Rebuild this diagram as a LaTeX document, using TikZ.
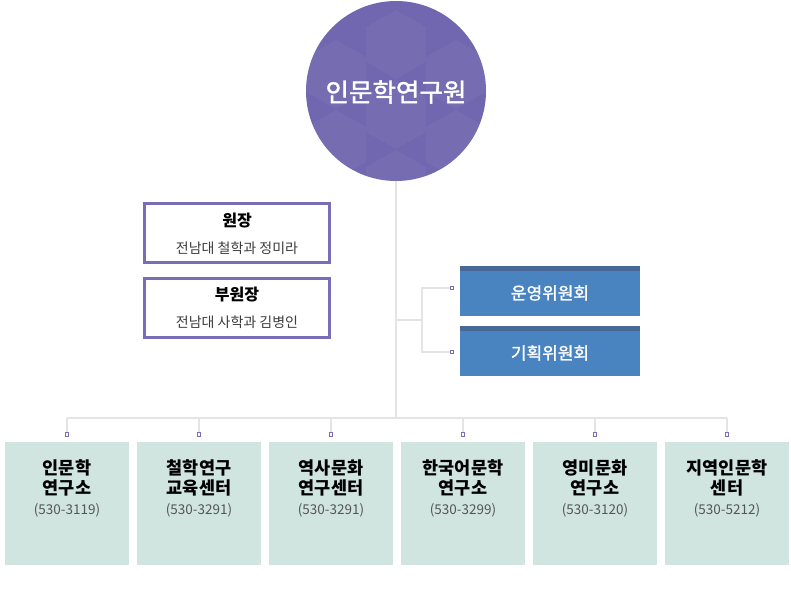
\documentclass[tikz,border=0pt]{standalone}
\usepackage{fontspec}
\setmainfont{Noto Sans CJK KR}
\newfontfamily\kr{Noto Sans CJK KR}
\newfontfamily\krm[FakeBold=1.5]{Noto Sans CJK KR}
\definecolor{circ}{RGB}{113,103,176}
\definecolor{pborder}{RGB}{122,109,181}
\definecolor{bluebox}{RGB}{74,132,192}
\definecolor{bluetop}{RGB}{72,104,152}
\definecolor{mint}{RGB}{209,229,224}
\definecolor{linegray}{RGB}{228,228,228}
\definecolor{phone}{RGB}{85,85,85}
\definecolor{subgray}{RGB}{60,60,60}
\tikzset{
  conn/.style={draw=linegray, line width=1.2pt},
  endsq/.style={draw=pborder, fill=white, line width=0.9pt, minimum size=3.2pt, inner sep=0pt, rectangle},
  leadbox/.style={draw=pborder, line width=2.6pt, fill=white, minimum width=185pt, minimum height=59pt, inner sep=0pt},
  commbox/.style={fill=bluebox, minimum width=180pt, minimum height=50pt, inner sep=0pt},
  unitbox/.style={fill=mint, minimum width=124pt, minimum height=123pt, inner sep=0pt},
  unittext/.style={align=center, font=\kr\fontsize{17.5pt}{20.5pt}\selectfont\bfseries, text=black},
}
\begin{document}
\begin{tikzpicture}[x=1pt,y=-1pt]
\useasboundingbox (0,0) rectangle (791,596);
\fill[white] (0,0) rectangle (791,596);
% main trunk
\coordinate (trunkbot) at (396,418);
\coordinate (branch) at (396,320);
\coordinate (bj) at (422,320);
% circle
\node[circle, fill=circ, minimum size=180pt, inner sep=0pt] (root) at (396,91) {};
\begin{scope}
\clip (396,91) circle (90pt);
\foreach \cx/\cy in {336/40, 396/10, 456/40, 336/110, 456/110, 396/80, 396/150, 336/180, 456/180} {
  \fill[white, opacity=0.035] (\cx,\cy) -- ++(30,17) -- ++(0,35) -- ++(-30,17) -- ++(-30,-17) -- ++(0,-35) -- cycle;
}
\end{scope}
\node[text=white, font=\krm\fontsize{25.5pt}{28pt}\selectfont] (roottext) at (396,92) {인문학연구원};
\draw[conn] (root.south) -- (trunkbot);
% leaders
\node[leadbox] (dir) at (237,233) {};
\node[font=\kr\fontsize{16pt}{18pt}\selectfont\bfseries] at (237,221) {원장};
\node[font=\kr\fontsize{14pt}{16pt}\selectfont, text=subgray] at (237,248) {전남대 철학과 정미라};
\node[leadbox] (vdir) at (237,308) {};
\node[font=\kr\fontsize{16pt}{18pt}\selectfont\bfseries] at (237,295) {부원장};
\node[font=\kr\fontsize{14pt}{16pt}\selectfont, text=subgray] at (237,322) {전남대 사학과 김병인};
% committees
\node[commbox] (c1) at (550,291) {};
\fill[bluetop] (c1.north west) rectangle ([yshift=-5pt]c1.north east);
\node[text=white, font=\krm\fontsize{17pt}{19pt}\selectfont] at (550,293) {운영위원회};
\node[commbox] (c2) at (550,351) {};
\fill[bluetop] (c2.north west) rectangle ([yshift=-5pt]c2.north east);
\node[text=white, font=\krm\fontsize{17pt}{19pt}\selectfont] at (550,353) {기획위원회};
\node[endsq] (s1) at (452,288) {};
\node[endsq] (s2) at (452,352) {};
\draw[conn] (branch) -- (bj);
\draw[conn] (s1.west) -| (bj) |- (s2.west);
% bottom bus
\draw[conn] (67,418) -- (727,418);
\foreach \i/\x/\t/\p in {
  1/67/{인문학\\연구소}/{(530-3119)},
  2/199/{철학연구\\교육센터}/{(530-3291)},
  3/331/{역사문화\\연구센터}/{(530-3291)},
  4/463/{한국어문학\\연구소}/{(530-3299)},
  5/595/{영미문화\\연구소}/{(530-3120)},
  6/727/{지역인문학\\센터}/{(530-5212)}} {
  \node[unitbox] (u\i) at (\x-0.5,503.5) {};
  \node[endsq] (q\i) at (\x,434.5) {};
  \draw[conn] (\x,418) -- (q\i.north);
  \node[unittext] (t\i) at (\x,478) {\t};
  \node[text=phone, font=\kr\fontsize{13.5pt}{15pt}\selectfont] (ph\i) at (\x,510.5) {\p};
}
\end{tikzpicture}
\end{document}
